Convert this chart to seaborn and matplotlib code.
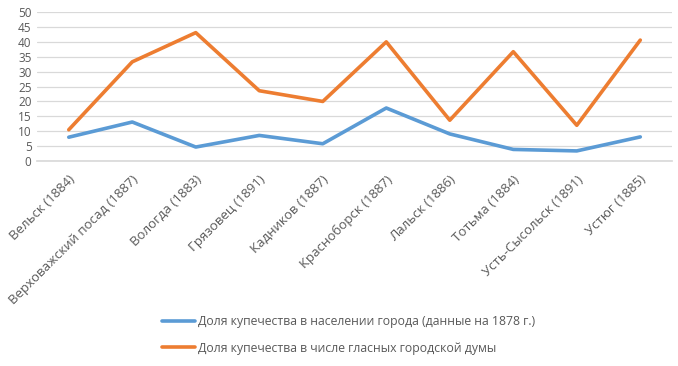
import matplotlib
matplotlib.use("Agg")
import matplotlib.pyplot as plt
import matplotlib.transforms as mtransforms
import pandas as pd
import seaborn as sns
from matplotlib.lines import Line2D

# ──────────────────────────────────────────────────────────────────
# Data
# ──────────────────────────────────────────────────────────────────

towns = [
    "Вельск (1884)",
    "Верховажский посад (1887)",
    "Вологда (1883)",
    "Грязовец (1891)",
    "Кадников (1887)",
    "Красноборск (1887)",
    "Лальск (1886)",
    "Тотьма (1884)",
    "Усть-Сысольск (1891)",
    "Устюг (1885)",
]
share_population = [8.0, 13.1, 4.7, 8.6, 5.8, 17.8, 9.1, 3.9, 3.4, 8.1]
share_duma = [10.5, 33.3, 43.1, 23.6, 20.0, 40.0, 13.7, 36.7, 12.0, 40.6]

label_population = "Доля купечества в населении города (данные на 1878 г.)"
label_duma = "Доля купечества в числе гласных городской думы"

y_ticks = list(range(0, 55, 5))

# ──────────────────────────────────────────────────────────────────
# Plot
# ──────────────────────────────────────────────────────────────────

sns.set_theme(style="white")
plt.rcParams["font.family"] = ["Open Sans", "DejaVu Sans"]

df = pd.DataFrame({
    "x": list(range(len(towns))) * 2,
    "value": share_population + share_duma,
    "series": [label_population] * len(towns) + [label_duma] * len(towns),
})

text_color = "#595959"
blue, orange = "#5B9BD5", "#ED7D31"

fig = plt.figure(figsize=(6.78, 3.66), dpi=100)
ax = fig.add_axes([0.0546, 0.560, 0.9366, 0.407])

sns.lineplot(
    data=df, x="x", y="value", hue="series",
    palette={label_population: blue, label_duma: orange},
    linewidth=2.6, ax=ax, legend=False, zorder=3,
)

ax.set_xlim(-0.5, len(towns) - 0.5)
ax.set_ylim(0, 50)
ax.set_yticks(y_ticks)
ax.set_yticklabels([str(t) for t in y_ticks], fontsize=8.5, color=text_color)
ax.yaxis.grid(True, color="#d9d9d9", linewidth=0.9)
ax.set_axisbelow(True)
for side in ["top", "right", "left"]:
    ax.spines[side].set_visible(False)
ax.spines["bottom"].set_color("#d9d9d9")
ax.tick_params(axis="both", length=0, pad=4)

ax.set_xticks(range(len(towns)))
ax.set_xticklabels(towns, rotation=45, ha="right", va="center",
                   rotation_mode="anchor", fontsize=9.5, color=text_color)
ax.tick_params(axis="x", pad=12)
shift = mtransforms.ScaledTranslation(4 / 100, 0, fig.dpi_scale_trans)
for lbl in ax.get_xticklabels():
    lbl.set_transform(lbl.get_transform() + shift)
ax.set_xlabel("")
ax.set_ylabel("")

handles = [
    Line2D([], [], color=blue, linewidth=2.6),
    Line2D([], [], color=orange, linewidth=2.6),
]
fig.legend(handles, [label_population, label_duma], loc="center",
           bbox_to_anchor=(0.514, 0.085), frameon=False, fontsize=8.8,
           labelcolor=text_color, handlelength=2.7, handletextpad=0.3,
           labelspacing=1.1)

fig.savefig("out.png", dpi=100)
plt.close(fig)
